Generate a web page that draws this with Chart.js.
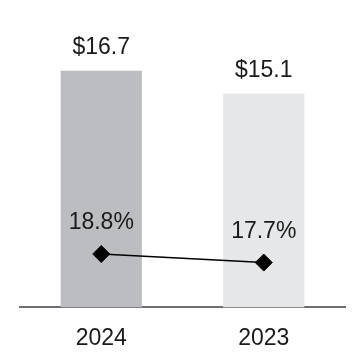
<!DOCTYPE html>
<html>
<head>
<meta charset="utf-8">
<script src="https://cdn.jsdelivr.net/npm/chart.js@4/dist/chart.umd.min.js"></script>
<style>
  html, body { margin: 0; padding: 0; background: #ffffff; }
  #wrap { width: 364px; height: 364px; }
</style>
</head>
<body>
<div id="wrap"><canvas id="chart" width="364" height="364"></canvas></div>
<script>
// Datos del gráfico
const years = ['2024', '2023'];
const revenue = [16.7, 15.1];          // barras, en miles de millones $
const margin = [18.8, 17.7];           // línea, en %
const barColors = ['#bcbdc0', '#e6e7e8'];

const FONT = '"Liberation Sans", Arial, sans-serif';

// Etiquetas de valor encima de barras y puntos
const valueLabels = {
    id: 'valueLabels',
    afterDatasetsDraw(chart) {
        const ctx = chart.ctx;
        ctx.save();
        ctx.fillStyle = '#1a1a1a';
        ctx.font = '23px ' + FONT;
        ctx.textAlign = 'center';
        ctx.textBaseline = 'middle';

        chart.getDatasetMeta(0).data.forEach((bar, i) => {
            ctx.fillText('$' + revenue[i].toFixed(1), bar.x, bar.y - 23);
        });
        chart.getDatasetMeta(1).data.forEach((pt, i) => {
            ctx.fillText(margin[i].toFixed(1) + '%', pt.x, pt.y - 31);
        });
        ctx.restore();
    }
};

const ctx = document.getElementById('chart').getContext('2d');
new Chart(ctx, {
    type: 'bar',
    data: {
        labels: years,
        datasets: [
            {
                type: 'bar',
                data: revenue,
                backgroundColor: barColors,
                borderWidth: 0,
                barPercentage: 0.5,
                categoryPercentage: 1,
                yAxisID: 'y',
                order: 2
            },
            {
                type: 'line',
                data: margin,
                borderColor: '#000000',
                borderWidth: 1.5,
                pointStyle: 'rectRot',
                pointRadius: 8.5,
                pointBackgroundColor: '#000000',
                pointBorderColor: '#000000',
                pointBorderWidth: 1,
                tension: 0,
                yAxisID: 'y2',
                order: 1
            }
        ]
    },
    options: {
        responsive: false,
        animation: false,
        devicePixelRatio: 1,
        layout: { padding: { top: 24, bottom: -5, left: 20, right: 19 } },
        plugins: {
            legend: { display: false },
            tooltip: { enabled: false }
        },
        scales: {
            x: {
                grid: { display: false, drawTicks: false },
                border: { display: true, color: '#6d6e71', width: 2 },
                ticks: {
                    color: '#1a1a1a',
                    padding: 17,
                    font: { family: FONT, size: 23 }
                }
            },
            y: { display: false, min: 0, max: 20 },
            y2: { display: false, min: 11.95, max: 48.3 }
        }
    },
    plugins: [valueLabels]
});
</script>
</body>
</html>
